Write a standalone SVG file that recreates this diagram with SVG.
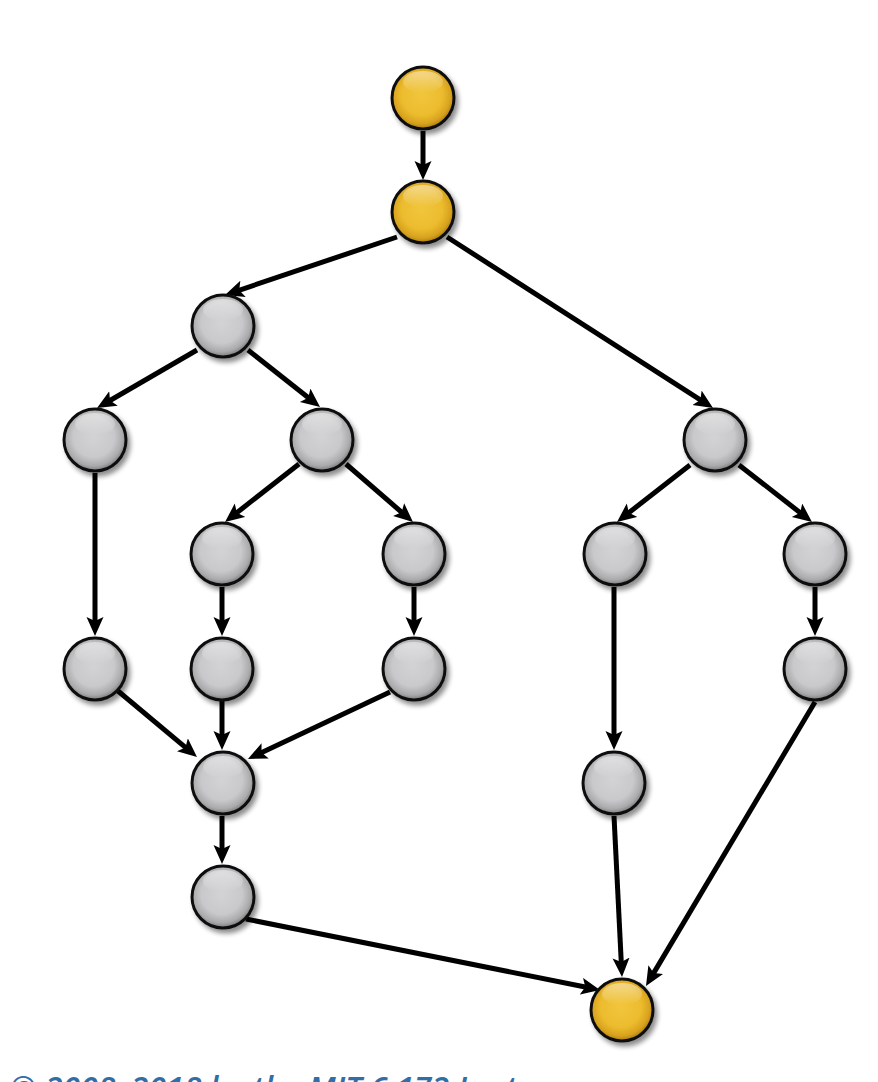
<svg xmlns="http://www.w3.org/2000/svg" width="878" height="1082" viewBox="0 0 878 1082">
<style>
.edge{stroke:#000;stroke-width:5;fill:none;marker-end:url(#arr)}
.node circle.body{stroke:#111;stroke-width:3;filter:url(#shadow)}
.gray{fill:url(#gGray)}
.gold{fill:url(#gGold)}
.hl{fill:url(#gHl);stroke:none}
.credit{font-family:"Open Sans","Liberation Sans",sans-serif;font-style:italic;font-weight:600;font-size:32px;fill:#2f6ea6}
</style>
<defs>
<marker id="arr" markerUnits="userSpaceOnUse" markerWidth="20" markerHeight="18" refX="9" refY="8.5" orient="auto" viewBox="0 0 20 18">
<path d="M0,0 L19,8.5 L0,17 L4,8.5 z" fill="#000"/>
</marker>
<radialGradient id="gGray" cx="48%" cy="45%" r="55%">
<stop offset="0" stop-color="#d3d3d5"/>
<stop offset="0.6" stop-color="#c9c9cb"/>
<stop offset="0.85" stop-color="#aaaaac"/>
<stop offset="1" stop-color="#78787a"/>
</radialGradient>
<radialGradient id="gGold" cx="48%" cy="45%" r="55%">
<stop offset="0" stop-color="#f1c53c"/>
<stop offset="0.6" stop-color="#ecbc2e"/>
<stop offset="0.85" stop-color="#d7a21e"/>
<stop offset="1" stop-color="#a87a0c"/>
</radialGradient>
<linearGradient id="gHl" x1="0" y1="0" x2="0" y2="1">
<stop offset="0" stop-color="#fff" stop-opacity="0.45"/>
<stop offset="1" stop-color="#fff" stop-opacity="0"/>
</linearGradient>
<filter id="shadow" x="-30%" y="-30%" width="170%" height="170%">
<feGaussianBlur in="SourceAlpha" stdDeviation="2.5"/>
<feOffset dx="3" dy="4" result="b"/>
<feComponentTransfer><feFuncA type="linear" slope="0.45"/></feComponentTransfer>
<feMerge><feMergeNode/><feMergeNode in="SourceGraphic"/></feMerge>
</filter>
<g id="hlShape"><ellipse class="hl" cx="0" cy="-16" rx="20" ry="11"/></g>
</defs>

<g id="connectors">
<line class="edge" x1="423" y1="131" x2="423" y2="170"/>
<line class="edge" x1="397" y1="237" x2="234.5" y2="291.8"/>
<line class="edge" x1="447" y1="237" x2="704.6" y2="402.6"/>
<line class="edge" x1="197" y1="350" x2="105.7" y2="403"/>
<line class="edge" x1="248" y1="350" x2="312.2" y2="400.8"/>
<line class="edge" x1="95" y1="473" x2="95" y2="626"/>
<line class="edge" x1="299" y1="464" x2="232.9" y2="515.8"/>
<line class="edge" x1="346" y1="464" x2="405.4" y2="515.5"/>
<line class="edge" x1="222" y1="587" x2="222" y2="626"/>
<line class="edge" x1="414" y1="587" x2="414" y2="626"/>
<line class="edge" x1="118" y1="691" x2="189.3" y2="750.6"/>
<line class="edge" x1="222" y1="701" x2="222" y2="740"/>
<line class="edge" x1="390" y1="692" x2="257" y2="754.7"/>
<line class="edge" x1="222" y1="816" x2="222" y2="854"/>
<line class="edge" x1="246" y1="919" x2="590.2" y2="988"/>
<line class="edge" x1="614" y1="816" x2="621.5" y2="967"/>
<line class="edge" x1="815" y1="702" x2="651.1" y2="977.4"/>
<line class="edge" x1="690" y1="465" x2="624.9" y2="515.8"/>
<line class="edge" x1="739" y1="465" x2="804.1" y2="515.8"/>
<line class="edge" x1="614" y1="587" x2="614" y2="740"/>
<line class="edge" x1="815" y1="587" x2="815" y2="626"/>
</g>

<g id="n-start" class="node"><circle class="body gold" cx="423" cy="98" r="31"/><use href="#hlShape" x="423" y="98"/></g>
<g id="n-root" class="node"><circle class="body gold" cx="423" cy="212" r="31"/><use href="#hlShape" x="423" y="212"/></g>
<g id="n-a" class="node"><circle class="body gray" cx="223" cy="326" r="31"/><use href="#hlShape" x="223" y="326"/></g>
<g id="n-b" class="node"><circle class="body gray" cx="95" cy="440" r="31"/><use href="#hlShape" x="95" y="440"/></g>
<g id="n-c" class="node"><circle class="body gray" cx="322" cy="440" r="31"/><use href="#hlShape" x="322" y="440"/></g>
<g id="n-d" class="node"><circle class="body gray" cx="715" cy="440" r="31"/><use href="#hlShape" x="715" y="440"/></g>
<g id="n-e" class="node"><circle class="body gray" cx="222" cy="554" r="31"/><use href="#hlShape" x="222" y="554"/></g>
<g id="n-f" class="node"><circle class="body gray" cx="414" cy="554" r="31"/><use href="#hlShape" x="414" y="554"/></g>
<g id="n-g" class="node"><circle class="body gray" cx="615" cy="554" r="31"/><use href="#hlShape" x="615" y="554"/></g>
<g id="n-h" class="node"><circle class="body gray" cx="815" cy="554" r="31"/><use href="#hlShape" x="815" y="554"/></g>
<g id="n-i" class="node"><circle class="body gray" cx="95" cy="669" r="31"/><use href="#hlShape" x="95" y="669"/></g>
<g id="n-j" class="node"><circle class="body gray" cx="222" cy="669" r="31"/><use href="#hlShape" x="222" y="669"/></g>
<g id="n-k" class="node"><circle class="body gray" cx="414" cy="669" r="31"/><use href="#hlShape" x="414" y="669"/></g>
<g id="n-l" class="node"><circle class="body gray" cx="815" cy="669" r="31"/><use href="#hlShape" x="815" y="669"/></g>
<g id="n-m" class="node"><circle class="body gray" cx="223" cy="783" r="31"/><use href="#hlShape" x="223" y="783"/></g>
<g id="n-n" class="node"><circle class="body gray" cx="614" cy="783" r="31"/><use href="#hlShape" x="614" y="783"/></g>
<g id="n-o" class="node"><circle class="body gray" cx="223" cy="897" r="31"/><use href="#hlShape" x="223" y="897"/></g>
<g id="n-sink" class="node"><circle class="body gold" cx="622" cy="1010" r="31"/><use href="#hlShape" x="622" y="1010"/></g>

<text class="credit" x="10" y="1100">© 2008–2018 by the MIT 6.172 Lecturers</text>
</svg>
